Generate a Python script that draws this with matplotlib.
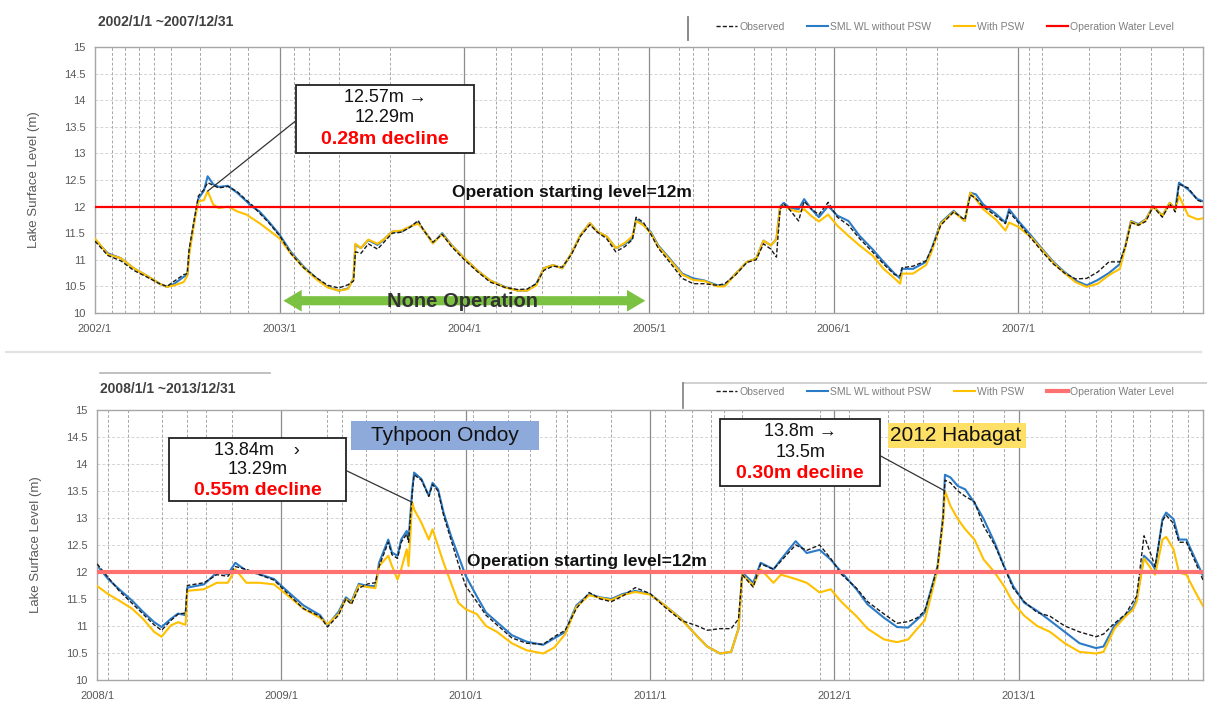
import numpy as np
import matplotlib
matplotlib.use("Agg")
import matplotlib.pyplot as plt
from matplotlib.patches import Rectangle
from matplotlib.lines import Line2D

plt.rcParams['font.family'] = ['Liberation Sans', 'DejaVu Sans']

# ---------------- data (decimal year, lake level in m) ----------------
t_top = [2002.00, 2002.07, 2002.14, 2002.21, 2002.29, 2002.35, 2002.39, 2002.43, 2002.48, 2002.50,
         2002.51, 2002.54, 2002.56, 2002.59, 2002.61, 2002.64, 2002.67, 2002.72, 2002.77, 2002.82,
         2002.85, 2002.89, 2002.94, 2003.00, 2003.06, 2003.13, 2003.20, 2003.26, 2003.32, 2003.37,
         2003.40, 2003.41, 2003.44, 2003.48, 2003.53, 2003.57, 2003.61, 2003.66, 2003.71, 2003.75,
         2003.78, 2003.83, 2003.88, 2003.93, 2004.00, 2004.07, 2004.14, 2004.22, 2004.29, 2004.34,
         2004.39, 2004.43, 2004.48, 2004.53, 2004.58, 2004.63, 2004.68, 2004.72, 2004.77, 2004.82,
         2004.87, 2004.91, 2004.93, 2004.97, 2005.01, 2005.05, 2005.12, 2005.18, 2005.24, 2005.30,
         2005.37, 2005.41, 2005.47, 2005.53, 2005.58, 2005.62, 2005.66, 2005.69, 2005.71, 2005.73,
         2005.76, 2005.81, 2005.84, 2005.88, 2005.92, 2005.97, 2006.02, 2006.08, 2006.14, 2006.21,
         2006.27, 2006.33, 2006.36, 2006.37, 2006.43, 2006.50, 2006.53, 2006.58, 2006.65, 2006.71,
         2006.74, 2006.77, 2006.81, 2006.88, 2006.93, 2006.95, 2007.00, 2007.07, 2007.13, 2007.19,
         2007.25, 2007.31, 2007.37, 2007.43, 2007.49, 2007.55, 2007.58, 2007.61, 2007.65, 2007.69,
         2007.73, 2007.78, 2007.82, 2007.85, 2007.87, 2007.92, 2007.97, 2008.00]
sim_top = [11.38, 11.12, 11.03, 10.84, 10.68, 10.55, 10.49, 10.55, 10.68, 10.72,
           11.15, 11.78, 12.15, 12.30, 12.57, 12.42, 12.37, 12.39, 12.26, 12.10,
           12.00, 11.91, 11.72, 11.47, 11.15, 10.87, 10.65, 10.49, 10.42, 10.46,
           10.65, 11.28, 11.22, 11.37, 11.28, 11.40, 11.53, 11.53, 11.63, 11.70,
           11.56, 11.31, 11.50, 11.28, 11.03, 10.80, 10.61, 10.49, 10.42, 10.42,
           10.55, 10.84, 10.90, 10.84, 11.12, 11.47, 11.69, 11.53, 11.44, 11.22,
           11.30, 11.40, 11.76, 11.66, 11.52, 11.27, 10.99, 10.74, 10.65, 10.61,
           10.52, 10.52, 10.74, 10.96, 11.02, 11.36, 11.27, 11.39, 12.00, 12.07,
           11.98, 11.95, 12.14, 11.95, 11.80, 12.01, 11.83, 11.73, 11.45, 11.20,
           10.96, 10.74, 10.65, 10.83, 10.83, 10.96, 11.20, 11.70, 11.92, 11.73,
           12.26, 12.23, 12.04, 11.86, 11.70, 11.95, 11.73, 11.45, 11.20, 10.96,
           10.77, 10.61, 10.52, 10.62, 10.75, 10.92, 11.27, 11.73, 11.67, 11.76,
           12.01, 11.83, 12.07, 11.95, 12.45, 12.32, 12.14, 12.10]
psw_top = [11.40, 11.10, 11.03, 10.84, 10.68, 10.55, 10.49, 10.52, 10.58, 10.70,
           11.10, 11.75, 12.10, 12.12, 12.29, 12.04, 11.97, 12.00, 11.91, 11.85,
           11.78, 11.69, 11.56, 11.40, 11.12, 10.85, 10.63, 10.48, 10.42, 10.45,
           10.65, 11.30, 11.22, 11.38, 11.30, 11.40, 11.53, 11.55, 11.63, 11.68,
           11.56, 11.31, 11.48, 11.27, 11.03, 10.80, 10.61, 10.48, 10.42, 10.42,
           10.52, 10.84, 10.90, 10.84, 11.12, 11.47, 11.69, 11.53, 11.44, 11.22,
           11.32, 11.44, 11.73, 11.65, 11.50, 11.25, 10.97, 10.72, 10.62, 10.60,
           10.50, 10.50, 10.74, 10.96, 11.02, 11.36, 11.27, 11.39, 11.98, 12.02,
           11.95, 11.90, 11.95, 11.82, 11.72, 11.85, 11.64, 11.45, 11.27, 11.08,
           10.83, 10.65, 10.55, 10.74, 10.74, 10.90, 11.15, 11.68, 11.90, 11.73,
           12.26, 12.14, 11.95, 11.75, 11.55, 11.70, 11.62, 11.42, 11.18, 10.94,
           10.75, 10.58, 10.49, 10.55, 10.71, 10.83, 11.25, 11.72, 11.65, 11.75,
           12.00, 11.83, 12.07, 11.95, 12.20, 11.83, 11.76, 11.78]
obs_top = [11.35, 11.08, 10.98, 10.80, 10.66, 10.55, 10.50, 10.60, 10.72, 10.74,
           11.20, 11.80, 12.20, 12.32, 12.45, 12.40, 12.35, 12.38, 12.28, 12.12,
           12.03, 11.88, 11.70, 11.45, 11.12, 10.85, 10.66, 10.52, 10.47, 10.53,
           10.60, 11.15, 11.12, 11.30, 11.20, 11.35, 11.50, 11.52, 11.62, 11.74,
           11.55, 11.33, 11.48, 11.25, 11.00, 10.78, 10.58, 10.48, 10.44, 10.45,
           10.55, 10.80, 10.88, 10.86, 11.10, 11.45, 11.66, 11.52, 11.40, 11.15,
           11.25, 11.38, 11.80, 11.70, 11.48, 11.22, 10.92, 10.65, 10.55, 10.55,
           10.52, 10.55, 10.72, 10.95, 11.00, 11.30, 11.20, 11.05, 11.95, 12.05,
           11.95, 11.73, 12.10, 11.95, 11.85, 12.08, 11.80, 11.65, 11.40, 11.15,
           10.92, 10.72, 10.70, 10.85, 10.88, 10.98, 11.20, 11.65, 11.90, 11.75,
           12.22, 12.15, 12.00, 11.82, 11.68, 11.90, 11.70, 11.40, 11.15, 10.92,
           10.75, 10.64, 10.65, 10.77, 10.96, 10.96, 11.25, 11.70, 11.65, 11.72,
           12.00, 11.80, 12.05, 11.90, 12.42, 12.35, 12.12, 12.08]

t_bot = [2008.00, 2008.06, 2008.12, 2008.19, 2008.25, 2008.31, 2008.35, 2008.40, 2008.44, 2008.48,
         2008.49, 2008.58, 2008.65, 2008.71, 2008.75, 2008.81, 2008.88, 2008.96, 2009.04, 2009.12,
         2009.21, 2009.25, 2009.31, 2009.35, 2009.38, 2009.42, 2009.47, 2009.51, 2009.53, 2009.58,
         2009.60, 2009.63, 2009.65, 2009.68, 2009.69, 2009.71, 2009.72, 2009.76, 2009.80, 2009.82,
         2009.85, 2009.88, 2009.92, 2009.96, 2010.00, 2010.06, 2010.11, 2010.17, 2010.25, 2010.33,
         2010.42, 2010.48, 2010.54, 2010.60, 2010.67, 2010.73, 2010.79, 2010.85, 2010.92, 2011.00,
         2011.08, 2011.17, 2011.25, 2011.31, 2011.38, 2011.44, 2011.48, 2011.50, 2011.56, 2011.60,
         2011.67, 2011.71, 2011.79, 2011.85, 2011.92, 2011.98, 2012.04, 2012.12, 2012.18, 2012.27,
         2012.34, 2012.40, 2012.45, 2012.49, 2012.52, 2012.56, 2012.59, 2012.60, 2012.63, 2012.67,
         2012.71, 2012.76, 2012.81, 2012.87, 2012.92, 2012.97, 2013.03, 2013.10, 2013.17, 2013.25,
         2013.33, 2013.42, 2013.46, 2013.52, 2013.58, 2013.62, 2013.64, 2013.68, 2013.72, 2013.74,
         2013.78, 2013.80, 2013.84, 2013.87, 2013.91, 2013.95, 2014.00]
sim_bot = [12.12, 11.87, 11.68, 11.47, 11.26, 11.07, 10.98, 11.13, 11.23, 11.20,
           11.71, 11.77, 11.99, 11.96, 12.17, 12.02, 11.96, 11.87, 11.62, 11.38,
           11.20, 11.01, 11.26, 11.53, 11.45, 11.78, 11.74, 11.74, 12.17, 12.60,
           12.36, 12.30, 12.60, 12.76, 12.60, 13.53, 13.84, 13.72, 13.41, 13.65,
           13.53, 13.10, 12.67, 12.30, 11.93, 11.55, 11.25, 11.07, 10.83, 10.71,
           10.65, 10.77, 10.89, 11.38, 11.59, 11.53, 11.50, 11.59, 11.65, 11.59,
           11.38, 11.13, 10.83, 10.62, 10.49, 10.52, 10.95, 11.99, 11.80, 12.17,
           12.05, 12.23, 12.57, 12.35, 12.41, 12.23, 11.99, 11.68, 11.40, 11.15,
           10.98, 10.97, 11.12, 11.25, 11.62, 12.11, 13.04, 13.80, 13.75, 13.59,
           13.53, 13.28, 12.98, 12.54, 12.11, 11.74, 11.43, 11.28, 11.10, 10.89,
           10.68, 10.59, 10.62, 11.01, 11.20, 11.35, 11.50, 12.30, 12.17, 12.05,
           12.98, 13.10, 12.98, 12.60, 12.60, 12.30, 11.93]
psw_bot = [11.74, 11.59, 11.47, 11.32, 11.13, 10.89, 10.80, 11.01, 11.07, 11.02,
           11.65, 11.68, 11.80, 11.80, 12.05, 11.80, 11.80, 11.77, 11.55, 11.32,
           11.15, 11.03, 11.22, 11.50, 11.42, 11.75, 11.72, 11.70, 12.11, 12.30,
           12.11, 11.86, 12.05, 12.42, 12.11, 13.29, 13.16, 12.91, 12.60, 12.79,
           12.48, 12.17, 11.80, 11.43, 11.31, 11.22, 11.00, 10.89, 10.68, 10.55,
           10.49, 10.60, 10.85, 11.35, 11.57, 11.52, 11.48, 11.57, 11.63, 11.58,
           11.38, 11.12, 10.83, 10.62, 10.49, 10.52, 10.95, 11.95, 11.75, 12.05,
           11.80, 11.95, 11.87, 11.80, 11.62, 11.68, 11.44, 11.18, 10.95, 10.75,
           10.70, 10.75, 10.95, 11.10, 11.50, 12.05, 12.95, 13.50, 13.22, 12.98,
           12.79, 12.60, 12.23, 11.99, 11.74, 11.43, 11.19, 11.00, 10.89, 10.68,
           10.52, 10.49, 10.52, 10.95, 11.18, 11.30, 11.45, 12.25, 12.05, 11.95,
           12.60, 12.65, 12.42, 11.99, 11.95, 11.68, 11.37]
obs_bot = [12.15, 11.90, 11.65, 11.42, 11.22, 11.02, 10.92, 11.10, 11.22, 11.24,
           11.75, 11.80, 11.95, 11.92, 12.10, 12.05, 11.95, 11.85, 11.58, 11.32,
           11.18, 10.98, 11.20, 11.50, 11.40, 11.70, 11.78, 11.80, 12.10, 12.55,
           12.32, 12.25, 12.55, 12.70, 12.55, 13.45, 13.80, 13.70, 13.40, 13.62,
           13.50, 13.05, 12.60, 12.15, 11.74, 11.45, 11.20, 11.02, 10.78, 10.68,
           10.66, 10.80, 10.92, 11.32, 11.62, 11.50, 11.45, 11.55, 11.71, 11.60,
           11.35, 11.10, 11.01, 10.92, 10.95, 10.95, 11.13, 11.95, 11.72, 12.15,
           12.05, 12.20, 12.50, 12.40, 12.50, 12.25, 11.95, 11.70, 11.45, 11.22,
           11.05, 11.08, 11.15, 11.28, 11.60, 12.10, 13.00, 13.70, 13.65, 13.50,
           13.40, 13.30, 12.85, 12.50, 12.10, 11.70, 11.45, 11.25, 11.18, 11.00,
           10.89, 10.80, 10.85, 11.05, 11.22, 11.45, 11.55, 12.67, 12.30, 12.10,
           12.95, 13.05, 12.90, 12.55, 12.55, 12.25, 11.85]

# dates of the dashed vertical reference lines
events_top = [2002.09, 2002.16, 2002.24, 2002.32, 2002.41, 2002.57, 2002.73, 2002.83, 2003.08, 2003.16,
              2003.32, 2003.60, 2004.17, 2004.25, 2004.42, 2004.58, 2004.73, 2004.83, 2005.16, 2005.24,
              2005.32, 2005.57, 2005.66, 2005.74, 2005.90, 2006.23, 2006.39, 2006.56, 2007.06, 2007.13,
              2007.38, 2007.55, 2007.72, 2007.89]
events_bot = [2008.06, 2008.17, 2008.35, 2008.49, 2008.59, 2008.73, 2009.25, 2009.33, 2009.46, 2009.63,
              2009.83, 2010.04, 2010.23, 2010.35, 2010.49, 2010.55, 2010.79, 2011.08, 2011.23, 2011.33,
              2011.40, 2011.50, 2011.92, 2012.08, 2012.29, 2012.38, 2012.48, 2012.67, 2012.75, 2012.92,
              2013.25, 2013.42, 2013.50, 2013.62, 2013.71, 2013.83, 2013.92]

operation_level = 12.0
labels = ["Observed", "SML WL without PSW", "With PSW", "Operation Water Level"]

BLUE = '#2b7bc8'
ORANGE = '#ffc000'
GREY = '#595959'


def panel(ax, t, obs, sim, psw, year0, events, red_lw, red_col):
    ax.set_xlim(year0, year0 + 6)
    ax.set_ylim(10, 15)
    for y in np.arange(10.5, 15.0, 0.5):
        ax.axhline(y, color='#d4d4d4', ls=(0, (3, 2)), lw=0.7, zorder=0)
    for e in events:
        ax.axvline(e, color='#a8a8a8', ls=(0, (3, 2)), lw=0.7, zorder=0)
    for y in range(year0 + 1, year0 + 6):
        ax.axvline(y, color='#8c8c8c', lw=0.9, zorder=0)
    h_sim, = ax.plot(t, sim, color=BLUE, lw=1.5, zorder=2)
    h_psw, = ax.plot(t, psw, color=ORANGE, lw=1.5, zorder=3)
    h_obs, = ax.plot(t, obs, color='#1a1a1a', lw=1.0, ls=(0, (3, 1.5)), zorder=4)
    h_red = ax.axhline(operation_level, color=red_col, lw=red_lw, zorder=5)
    ax.set_xticks(range(year0, year0 + 6))
    ax.set_xticklabels([f"{y}/1" for y in range(year0, year0 + 6)])
    yt = np.arange(10, 15.01, 0.5)
    ax.set_yticks(yt)
    ax.set_yticklabels([f"{v:g}" for v in yt])
    ax.tick_params(length=0, labelsize=8, colors=GREY)
    ax.tick_params(axis='x', pad=8)
    ax.tick_params(axis='y', pad=7)
    for s in ax.spines.values():
        s.set_color('#a6a6a6')
        s.set_linewidth(1.0)
    ax.set_ylabel("Lake Surface Level (m)", fontsize=9.5, color=GREY, labelpad=17)
    return [h_obs, h_sim, h_psw, h_red]


def note_box(ax, x0, x1, y0, y1, lines, ys, sizes):
    ax.add_patch(Rectangle((x0, y0), x1 - x0, y1 - y0, facecolor='white',
                           edgecolor='#222222', lw=1.3, zorder=6))
    xc = (x0 + x1) / 2
    for (txt, col, bold), yy, fs in zip(lines, ys, sizes):
        ax.text(xc, yy, txt, ha='center', va='center', fontsize=fs, color=col,
                fontweight='bold' if bold else 'normal', zorder=7)


def leader(ax, start, t, vals, lo, hi):
    t = np.asarray(t)
    v = np.asarray(vals)
    m = (t >= lo) & (t <= hi)
    i = np.argmax(np.where(m, v, -np.inf))
    ax.annotate('', xy=(t[i], v[i]), xytext=start,
                arrowprops=dict(arrowstyle='-', color='#333333', lw=0.9,
                                shrinkA=0, shrinkB=0), zorder=6)


fig = plt.figure(figsize=(12.07, 7.10), dpi=100)
ax1 = fig.add_axes([0.0787, 0.5592, 0.918, 0.3746])
ax2 = fig.add_axes([0.0804, 0.0423, 0.9163, 0.3803])

h1 = panel(ax1, t_top, obs_top, sim_top, psw_top, 2002, events_top, 1.6, '#ff0000')
h2 = panel(ax2, t_bot, obs_bot, sim_bot, psw_bot, 2008, events_bot, 3.0, '#ff7070')

# --- top panel notes ---
note_box(ax1, 2003.09, 2004.05, 13.0, 14.29,
         [("12.57m \u2192", '#111111', False), ("12.29m", '#111111', False),
          ("0.28m decline", '#ff0000', True)], [14.06, 13.67, 13.27], [13, 13, 14])
leader(ax1, (2003.09, 13.62), t_top, psw_top, 2002.0, 2003.0)
ax1.text(2004.58, 12.27, "Operation starting level=12m", ha='center', va='center',
         fontsize=12.5, fontweight='bold', color='#111111', zorder=7)
# green double arrow, drawn as two filled arrows from the middle
arrow_y = 10.23
mid = (2003.02 + 2004.98) / 2
for end in (2003.02, 2004.98):
    ax1.annotate('', xy=(end, arrow_y), xytext=(mid, arrow_y),
                 arrowprops=dict(arrowstyle='simple,head_length=1.1,head_width=1.3,tail_width=0.55',
                                 facecolor='#7cc242', edgecolor='none', lw=0,
                                 mutation_scale=12, shrinkA=0, shrinkB=0), zorder=6)
ax1.text(2003.99, 10.22, "None Operation", ha='center', va='center',
         fontsize=14.5, fontweight='bold', color='#333333', zorder=7)

# --- bottom panel notes ---
note_box(ax2, 2008.39, 2009.35, 13.31, 14.48,
         [("13.84m    \u203a", '#111111', False), ("13.29m", '#111111', False),
          ("0.55m decline", '#ff0000', True)], [14.25, 13.89, 13.50], [13, 13, 14])
leader(ax2, (2009.35, 13.88), t_bot, psw_bot, 2009.5, 2010.0)
ax2.add_patch(Rectangle((2009.38, 14.25), 1.02, 0.55, facecolor='#8eaadb',
                        edgecolor='none', zorder=6))
ax2.text(2009.89, 14.52, "Tyhpoon Ondoy", ha='center', va='center',
         fontsize=15, color='#111111', zorder=7)

note_box(ax2, 2011.38, 2012.25, 13.60, 14.84,
         [("13.8m \u2192", '#111111', False), ("13.5m", '#111111', False),
          ("0.30m decline", '#ff0000', True)], [14.60, 14.22, 13.82], [13, 13, 14])
leader(ax2, (2012.25, 14.15), t_bot, psw_bot, 2012.4, 2012.9)
ax2.add_patch(Rectangle((2012.29, 14.30), 0.75, 0.46, facecolor='#ffe066',
                        edgecolor='none', zorder=6))
ax2.text(2012.66, 14.52, "2012 Habagat", ha='center', va='center',
         fontsize=15, color='#111111', zorder=7)
ax2.text(2010.66, 12.2, "Operation starting level=12m", ha='center', va='center',
         fontsize=12.5, fontweight='bold', color='#111111', zorder=7)

# --- titles, legends and decorations ---
fig.text(0.081, 0.969, "2002/1/1 ~2007/12/31", fontsize=10, fontweight='bold',
         color='#404040', va='center')
fig.text(0.083, 0.452, "2008/1/1 ~2013/12/31", fontsize=10, fontweight='bold',
         color='#404040', va='center')

for hh, ycen in [(h1, 0.962), (h2, 0.448)]:
    fig.legend(hh, labels, loc='center', bbox_to_anchor=(0.783, ycen), ncol=4,
               frameon=False, fontsize=7.5, handlelength=2.0, handletextpad=0.2,
               columnspacing=2.2, labelcolor='#7f7f7f')

fig.add_artist(Line2D([0.570, 0.570], [0.976, 0.944], color='#7f7f7f', lw=1.3))
fig.add_artist(Line2D([0.566, 1.0], [0.4606, 0.4606], color='#c8c8c8', lw=1.2))
fig.add_artist(Line2D([0.566, 0.566], [0.4606, 0.4254], color='#7f7f7f', lw=1.2))
fig.add_artist(Line2D([0.005, 0.995], [0.504, 0.504], color='#e3e3e3', lw=1.6))
fig.add_artist(Line2D([0.083, 0.224], [0.4746, 0.4746], color='#b5b5b5', lw=1.2))

fig.savefig("out.png", dpi=100)
